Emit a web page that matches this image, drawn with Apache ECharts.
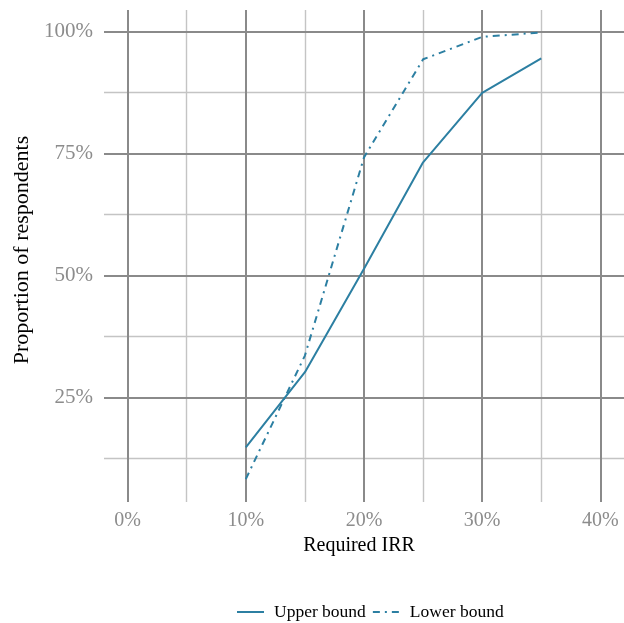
<!DOCTYPE html>
<html>
<head>
<meta charset="utf-8">
<script src="https://cdn.jsdelivr.net/npm/echarts@6/dist/echarts.min.js"></script>
<style>
  html, body { margin: 0; padding: 0; background: #ffffff; }
  #chart { width: 624px; height: 623px; }
</style>
</head>
<body>
<div id="chart"></div>
<script>
// Required IRR (%) at which each share of respondents would invest
const irr = [10, 15, 20, 25, 30, 35];
const upperBound = [14.8, 30.2, 51.4, 73.2, 87.4, 94.5];
const lowerBound = [8.3, 33.6, 74.2, 94.3, 98.9, 99.8];

// Axis ticks and gridlines
const xTicks = [0, 10, 20, 30, 40];
const xMinorTicks = [5, 15, 25, 35];
const yTicks = [25, 50, 75, 100];
const yMinorTicks = [12.5, 37.5, 62.5, 87.5];

const FONT = 'Liberation Serif';
const LINE_COLOR = '#2c7fa2';
const MAJOR = { color: '#8a8a8a', width: 2, type: 'solid' };
const MINOR = { color: '#c4c4c4', width: 1.4, type: 'solid' };

const pairs = ys => irr.map((x, i) => [x, ys[i]]);

const gridLines = []
  .concat(yMinorTicks.map(v => ({ yAxis: v, lineStyle: MINOR })))
  .concat(xMinorTicks.map(v => ({ xAxis: v, lineStyle: MINOR })))
  .concat(yTicks.map(v => ({ yAxis: v, lineStyle: MAJOR })))
  .concat(xTicks.map(v => ({ xAxis: v, lineStyle: MAJOR })));

const chart = echarts.init(document.getElementById('chart'), null, { renderer: 'canvas' });

chart.setOption({
  animation: false,
  backgroundColor: '#ffffff',
  textStyle: { fontFamily: FONT },
  grid: { left: 104, right: 0, top: 10, bottom: 121, containLabel: false },
  xAxis: {
    type: 'value',
    min: -2,
    max: 42,
    name: 'Required IRR',
    nameLocation: 'middle',
    nameGap: 29,
    nameTextStyle: { fontFamily: FONT, fontSize: 20, color: '#000000', padding: [0, 10, 0, 0] },
    axisLine: { show: false },
    axisTick: { show: false },
    splitLine: { show: false },
    axisLabel: {
      customValues: xTicks,
      formatter: v => v + '%',
      fontFamily: FONT,
      fontSize: 20,
      color: '#8c8c8c',
      margin: 9
    }
  },
  yAxis: {
    type: 'value',
    min: 3.6,
    max: 104.4,
    name: 'Proportion of respondents',
    nameLocation: 'middle',
    nameRotate: 90,
    nameGap: 70,
    nameTextStyle: { fontFamily: FONT, fontSize: 22, color: '#000000', padding: [0, 0, 0, 12] },
    axisLine: { show: false },
    axisTick: { show: false },
    splitLine: { show: false },
    axisLabel: {
      customValues: yTicks,
      formatter: v => v + '%',
      fontFamily: FONT,
      fontSize: 21,
      color: '#8c8c8c',
      margin: 11
    }
  },
  legend: {
    top: 598,
    left: 231,
    itemWidth: 27,
    itemHeight: 14,
    itemGap: 6,
    itemStyle: { opacity: 0 },
    textStyle: { fontFamily: FONT, fontSize: 17.5, color: '#000000', padding: [0, 0, 0, 5] },
    data: ['Upper bound', 'Lower bound']
  },
  series: [
    {
      name: 'gridlines',
      type: 'line',
      data: [],
      silent: true,
      z: 1,
      markLine: {
        silent: true,
        z: 1,
        symbol: ['none', 'none'],
        label: { show: false },
        emphasis: { disabled: true },
        animation: false,
        data: gridLines
      }
    },
    {
      name: 'Upper bound',
      type: 'line',
      z: 3,
      symbol: 'none',
      data: pairs(upperBound),
      lineStyle: { color: LINE_COLOR, width: 2, type: 'solid' },
      itemStyle: { color: LINE_COLOR }
    },
    {
      name: 'Lower bound',
      type: 'line',
      z: 3,
      symbol: 'none',
      data: pairs(lowerBound),
      lineStyle: { color: LINE_COLOR, width: 2, type: [7, 5, 2, 5] },
      itemStyle: { color: LINE_COLOR }
    }
  ]
});
</script>
</body>
</html>
